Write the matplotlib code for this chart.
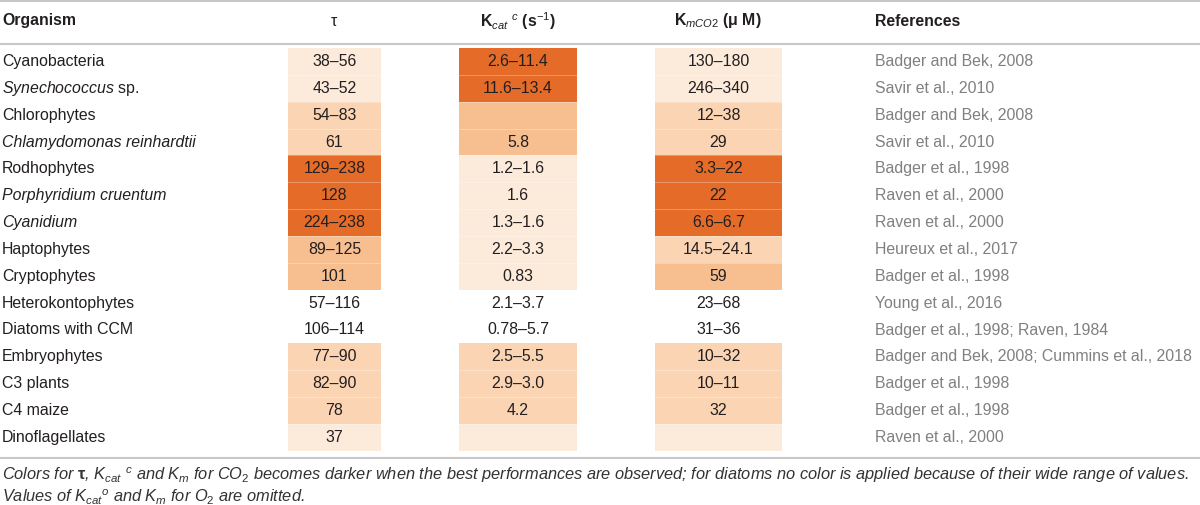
import matplotlib
matplotlib.use("Agg")
import matplotlib.pyplot as plt
from matplotlib.patches import Rectangle

plt.rcParams['font.family'] = ['Liberation Sans', 'DejaVu Sans']
plt.rcParams['mathtext.fontset'] = 'custom'
plt.rcParams['mathtext.rm'] = 'Liberation Sans'
plt.rcParams['mathtext.it'] = 'Liberation Sans:italic'
plt.rcParams['mathtext.bf'] = 'Liberation Sans:bold'

# table content
organisms = ['Cyanobacteria', r'$\it{Synechococcus}$ sp.', 'Chlorophytes',
             'Chlamydomonas reinhardtii', 'Rodhophytes', 'Porphyridium cruentum',
             'Cyanidium', 'Haptophytes', 'Cryptophytes', 'Heterokontophytes',
             'Diatoms with CCM', 'Embryophytes', 'C3 plants', 'C4 maize',
             'Dinoflagellates']
italic_rows = [3, 5, 6]
tau = ['38–56', '43–52', '54–83', '61', '129–238', '128', '224–238', '89–125',
       '101', '57–116', '106–114', '77–90', '82–90', '78', '37']
kcat = ['2.6–11.4', '11.6–13.4', '', '5.8', '1.2–1.6', '1.6', '1.3–1.6',
        '2.2–3.3', '0.83', '2.1–3.7', '0.78–5.7', '2.5–5.5', '2.9–3.0', '4.2', '']
kmco2 = ['130–180', '246–340', '12–38', '29', '3.3–22', '22', '6.6–6.7',
         '14.5–24.1', '59', '23–68', '31–36', '10–32', '10–11', '32', '']
references = ['Badger and Bek, 2008', 'Savir et al., 2010', 'Badger and Bek, 2008',
              'Savir et al., 2010', 'Badger et al., 1998', 'Raven et al., 2000',
              'Raven et al., 2000', 'Heureux et al., 2017', 'Badger et al., 1998',
              'Young et al., 2016', 'Badger et al., 1998; Raven, 1984',
              'Badger and Bek, 2008; Cummins et al., 2018', 'Badger et al., 1998',
              'Badger et al., 1998', 'Raven et al., 2000']

# colour level per cell (0 = none, 1 = lightest ... 4 = darkest)
tau_level = [1, 1, 2, 2, 4, 4, 4, 3, 3, 0, 0, 2, 2, 2, 1]
kcat_level = [4, 4, 3, 3, 1, 1, 1, 1, 1, 0, 0, 2, 2, 2, 1]
km_level = [1, 1, 2, 2, 4, 4, 4, 2, 3, 0, 0, 2, 2, 2, 1]

shades = {1: '#FCEBDB', 2: '#FBD4B3', 3: '#F7BE90', 4: '#E56B28'}
text_col = '#231F20'
ref_col = '#808080'
rule_col = '#C8C8C8'

fig = plt.figure(figsize=(12, 5.05), dpi=100)
ax = fig.add_axes([0, 0, 1, 1])
ax.set_xlim(0, 1200)
ax.set_ylim(505, 0)
ax.axis('off')

row0 = 61.5
pitch = 26.85
fs = 11.4

# rules
ax.plot([0, 1200], [1, 1], color=rule_col, lw=1.5)
ax.plot([0, 1200], [44, 44], color=rule_col, lw=1.5)
ax.plot([0, 1200], [458, 458], color=rule_col, lw=1.5)

# headers
ax.text(2, 21, 'Organism', fontsize=fs, fontweight='bold', color=text_col, va='center')
ax.text(334, 21, 'τ', fontsize=fs, color=text_col, va='center', ha='center')
ax.text(518, 21, r'$\mathbf{K}_{cat}$ $^{c}$ (s$^{−1}$)', fontsize=fs, fontweight='bold',
        color=text_col, va='center', ha='center')
ax.text(718, 21, r'$\mathbf{K}_{mCO2}$ (μ M)', fontsize=fs, fontweight='bold',
        color=text_col, va='center', ha='center')
ax.text(875, 21, 'References', fontsize=fs, fontweight='bold', color=text_col, va='center')

columns = [(tau, tau_level, 288, 381), (kcat, kcat_level, 459, 577),
           (kmco2, km_level, 655, 782)]

for i in range(len(organisms)):
    y = row0 + i * pitch
    style = 'italic' if i in italic_rows else 'normal'
    ax.text(2, y, organisms[i], fontsize=fs, style=style, color=text_col, va='center')
    for vals, levels, x0, x1 in columns:
        if levels[i]:
            ax.add_patch(Rectangle((x0, y - pitch / 2), x1 - x0, pitch,
                                   facecolor=shades[levels[i]], edgecolor='none'))
            if i > 0 and levels[i - 1]:
                ax.plot([x0, x1], [y - pitch / 2, y - pitch / 2], color='white',
                        lw=0.6, alpha=0.35)
        ax.text((x0 + x1) / 2, y, vals[i], fontsize=fs, color=text_col,
                va='center', ha='center')
    ax.text(875, y, references[i], fontsize=fs, color=ref_col, va='center')

note1 = (r'Colors for $\mathbf{τ}$, $K_{cat}$ $^{c}$ and $K_m$ for CO$_2$ becomes darker when '
         'the best performances are observed; for diatoms no color is applied because of '
         'their wide range of values.')
note2 = r'Values of $K_{cat}$$^{o}$ and $K_m$ for O$_2$ are omitted.'
ax.text(2, 475, note1, fontsize=11.8, style='italic', color='#333333', va='center')
ax.text(2, 497, note2, fontsize=11.8, style='italic', color='#333333', va='center')

fig.savefig('out.png', dpi=100)
